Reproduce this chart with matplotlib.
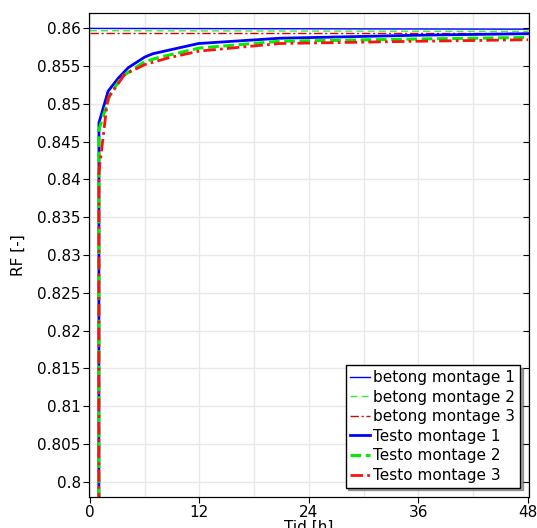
import matplotlib
matplotlib.use("Agg")
import matplotlib.pyplot as plt

# betong (concrete) sensors: nearly constant
t_betong = [0.0, 48.0]
rf_betong1 = [0.8600, 0.8599]
rf_betong2 = [0.8597, 0.8596]
rf_betong3 = [0.8594, 0.8594]

# Testo sensors: jump at ~1 h then slow rise
t_testo1 = [0.98, 0.99, 2.0, 3.1, 4.2, 6.0, 6.9, 11.9, 20.8, 36.0, 48.0]
rf_testo1 = [0.79, 0.8475, 0.8517, 0.8534, 0.8548, 0.8562, 0.85665, 0.8580, 0.8587, 0.8591, 0.8593]

t_testo2 = [0.98, 0.99, 2.2, 3.5, 4.6, 6.0, 7.7, 12.0, 20.8, 36.0, 48.0]
rf_testo2 = [0.79, 0.8466, 0.8512, 0.8536, 0.8545, 0.8556, 0.8562, 0.8574, 0.8583, 0.8586, 0.8588]

t_testo3 = [0.98, 0.99, 1.8, 2.0, 3.8, 6.0, 8.6, 12.0, 20.8, 36.0, 48.0]
rf_testo3 = [0.79, 0.8409, 0.8492, 0.8508, 0.8539, 0.8552, 0.8561, 0.8570, 0.8580, 0.8583, 0.8585]

x_ticks = [0, 12, 24, 36, 48]
y_ticks = [0.8, 0.805, 0.81, 0.815, 0.82, 0.825, 0.83, 0.835, 0.84, 0.845, 0.85, 0.855, 0.86]
y_labels = ["0.8", "0.805", "0.81", "0.815", "0.82", "0.825", "0.83", "0.835",
            "0.84", "0.845", "0.85", "0.855", "0.86"]

fig = plt.figure(figsize=(5.37, 5.28), dpi=100)
ax = fig.add_axes([0.1657, 0.0593, 0.8193, 0.9155])

ax.plot(t_betong, rf_betong1, color="#0000ff", lw=1.0, label="betong montage 1")
ax.plot(t_betong, rf_betong2, color="#33ee33", lw=1.0, dashes=(5, 3), label="betong montage 2")
ax.plot(t_betong, rf_betong3, color="#dd0000", lw=1.0, dashes=(6, 2, 1.5, 2), label="betong montage 3")
ax.plot(t_testo1, rf_testo1, color="#0000ff", lw=2.0, label="Testo montage 1")
ax.plot(t_testo2, rf_testo2, color="#00ee00", lw=2.2, dashes=(3.5, 1.5), label="Testo montage 2")
ax.plot(t_testo3, rf_testo3, color="#ff1010", lw=2.0, dashes=(4.5, 1.5, 1, 1.5), label="Testo montage 3")

ax.set_xlim(-0.1, 48.1)
ax.set_ylim(0.798, 0.862)
ax.set_xticks(x_ticks)
ax.set_xticks(range(0, 49, 6), minor=True)
ax.set_yticks(y_ticks)
ax.set_yticklabels(y_labels)
ax.tick_params(axis="both", which="major", labelsize=11, direction="out", length=4, pad=2)
ax.tick_params(axis="x", which="minor", length=0)
ax.grid(True, which="both", color="#e8e8e8", lw=1.0)
ax.set_axisbelow(True)

# inward ticks on the right side
axr = ax.twinx()
axr.set_ylim(ax.get_ylim())
axr.set_yticks(y_ticks)
axr.tick_params(axis="y", direction="in", length=4, labelright=False)

ax.set_xlabel("Tid [h]", fontsize=11, labelpad=0)
ax.set_ylabel("RF [-]", fontsize=11, labelpad=8)

leg = ax.legend(loc="lower right", fontsize=11, handlelength=1.3, handletextpad=0.2,
                labelspacing=0.3, borderpad=0.3, borderaxespad=0.6,
                fancybox=False, shadow=True, framealpha=1.0)
leg.get_frame().set_edgecolor("black")
leg.get_frame().set_linewidth(1.0)

fig.savefig("out.png", dpi=100)
